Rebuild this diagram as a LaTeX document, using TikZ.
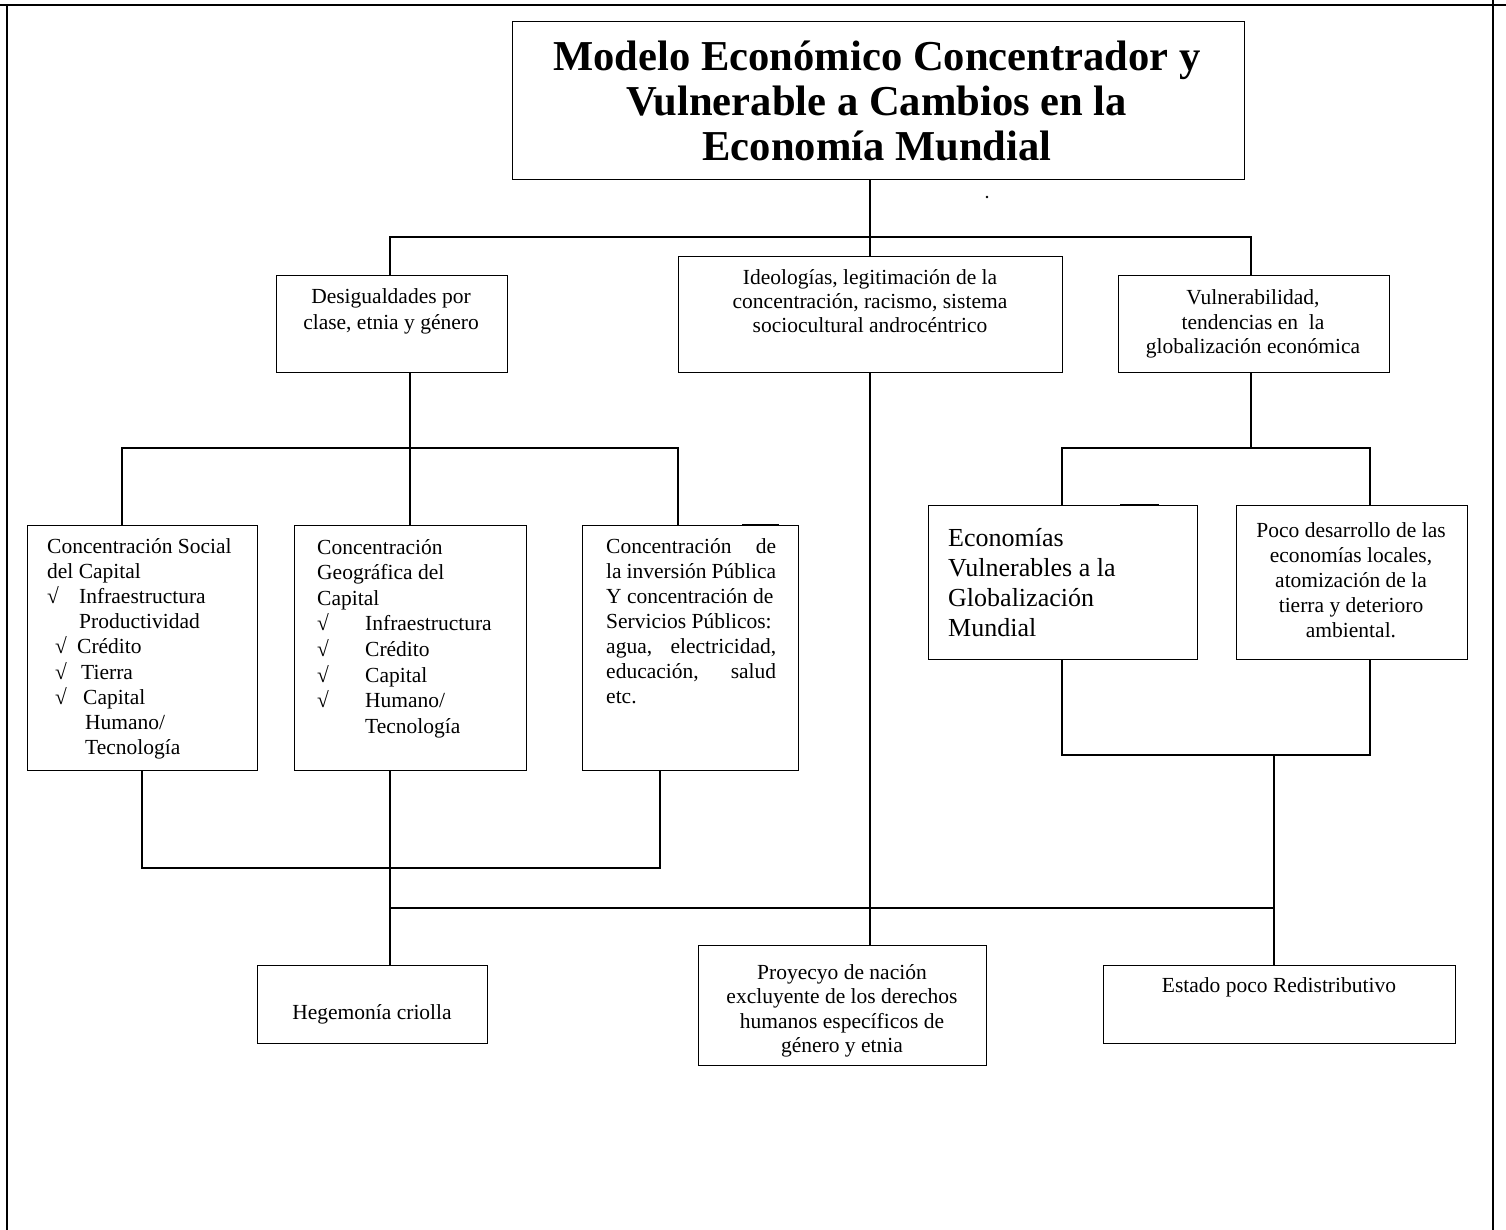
\documentclass[tikz,border=0pt]{standalone}
\usepackage{fontspec}
\setmainfont{Liberation Serif}
\usepackage{array}
\newcommand\txtrows[2]{\begin{tabular}[t]{@{}#1@{}}#2\end{tabular}}
\begin{document}
\begin{tikzpicture}[x=1pt,y=-1pt,
  box/.style={draw, line width=1.3pt, rectangle, inner sep=0pt, anchor=north west},
  conn/.style={line width=1.3pt},
  framerule/.style={line width=2pt},
  strayseg/.style={line width=2.6pt},
  txt/.style={inner sep=0pt, anchor=base, font=\fontsize{21.5}{25}\selectfont},
  txtl/.style={txt, anchor=base west},
]
\useasboundingbox (0,0) rectangle (1506,1230);
% outer frame
\draw[framerule] (0,5) -- (1506,5);
\draw[framerule] (7,5) -- (7,1230);
\draw[framerule] (1493,0) -- (1493,1230);

% boxes
\node[box, minimum width=732pt, minimum height=158pt] (title) at (512,21) {};
\node[box, minimum width=231pt, minimum height=97pt] (desig) at (276,275) {};
\node[box, minimum width=384pt, minimum height=116pt] (ideol) at (678,256) {};
\node[box, minimum width=271pt, minimum height=97pt] (vuln) at (1118,275) {};
\node[box, minimum width=230pt, minimum height=245pt] (social) at (27,525) {};
\node[box, minimum width=232pt, minimum height=245pt] (geo) at (294,525) {};
\node[box, minimum width=216pt, minimum height=245pt] (inv) at (582,525) {};
\node[box, minimum width=269pt, minimum height=154pt] (econ) at (928,505) {};
\node[box, minimum width=231pt, minimum height=154pt] (poco) at (1236,505) {};
\node[box, minimum width=230pt, minimum height=78pt] (heg) at (257,965) {};
\node[box, minimum width=288pt, minimum height=120pt] (proy) at (698,945) {};
\node[box, minimum width=352pt, minimum height=78pt] (estado) at (1103,965) {};

% texts
\node[txt, font=\fontsize{42.6}{45}\selectfont\bfseries] (titletxt) at (877,71)
  {\txtrows{c}{Modelo Económico Concentrador y\\Vulnerable a Cambios en la\\Economía Mundial}};
\node[txt, font=\fontsize{21.5}{26}\selectfont] (desigtxt) at (391,304)
  {\txtrows{c}{Desigualdades por\\clase, etnia y género}};
\node[txt, font=\fontsize{21.5}{24}\selectfont] (ideoltxt) at (870,285)
  {\txtrows{c}{Ideologías, legitimación de la\\concentración, racismo, sistema\\sociocultural androcéntrico}};
\node[txt, font=\fontsize{21.5}{24.5}\selectfont] (vulntxt) at (1253,305)
  {\txtrows{c}{Vulnerabilidad,\\tendencias en\ \ la\\globalización económica}};
\node[txtl, font=\fontsize{21.5}{25.2}\selectfont] (socialtxt) at (47,553)
  {\txtrows{l}{Concentración Social\\del Capital\\
   \makebox[32pt][l]{√}Infraestructura\\
   \hspace*{32pt}Productividad\\
   \hspace*{8pt}\makebox[22pt][l]{√}Crédito\\
   \hspace*{8pt}\makebox[26pt][l]{√}Tierra\\
   \hspace*{8pt}\makebox[28pt][l]{√}Capital\\
   \hspace*{38pt}Humano/\\
   \hspace*{38pt}Tecnología}};
\node[txtl, font=\fontsize{21.5}{25.6}\selectfont] (geotxt) at (317,554)
  {\txtrows{l}{Concentración\\Geográfica del\\Capital\\
   \makebox[48pt][l]{√}Infraestructura\\
   \makebox[48pt][l]{√}Crédito\\
   \makebox[48pt][l]{√}Capital\\
   \makebox[48pt][l]{√}Humano/\\
   \hspace*{48pt}Tecnología}};
\node[txtl, font=\fontsize{21.5}{25}\selectfont] (invtxt) at (606,553)
  {\txtrows{p{170pt}}{Concentración \hfill de\\la inversión Pública\\Y concentración de\\Servicios Públicos:\\agua, \hfill electricidad,\\educación, \hfill salud\\etc.}};
\node[txtl, font=\fontsize{26}{30}\selectfont] (econtxt) at (948,546)
  {\txtrows{l}{Economías\\Vulnerables a la\\Globalización\\Mundial}};
\node[txt, font=\fontsize{21.5}{25}\selectfont] (pocotxt) at (1351,537)
  {\txtrows{c}{Poco desarrollo de las\\economías locales,\\atomización de la\\tierra y deterioro\\ambiental.}};
\node[txt] (hegtxt) at (372,1019) {Hegemonía criolla};
\node[txt, font=\fontsize{21.5}{24.6}\selectfont] (proytxt) at (842,979)
  {\txtrows{c}{Proyecyo de nación\\excluyente de los derechos\\humanos específicos de\\género y etnia}};
\node[txt] (estadotxt) at (1279,992) {Estado poco Redistributivo};

% junction coordinates
\coordinate (xM) at (870,0);
\coordinate (xD) at (390,0);
\coordinate (xV) at (1251,0);
\coordinate (xS1) at (122,0);
\coordinate (xS2) at (142,0);
\coordinate (xG1) at (410,0);
\coordinate (xG2) at (390,0);
\coordinate (xI1) at (678,0);
\coordinate (xI2) at (660,0);
\coordinate (xE) at (1062,0);
\coordinate (xP) at (1370,0);
\coordinate (xT) at (1274,0);
\coordinate (hA) at (870,237);
\coordinate (hB) at (410,448);
\coordinate (hC) at (1251,448);
\coordinate (hD) at (390,868);
\coordinate (hE) at (1062,755);
\coordinate (hE2) at (1370,755);
\coordinate (hT) at (1274,755);
\coordinate (hF) at (870,908);

% connectors
\draw[conn] (title.south -| xM) -- (ideol.north -| xM);
\draw[conn] (desig.north -| xD) |- (hA) -| (vuln.north -| xV);
\draw[conn] (desig.south -| xG1) -- (hB);
\draw[conn] (social.north -| xS1) |- (hB) -| (inv.north -| xI1);
\draw[conn] (hB) -- (geo.north -| xG1);
\draw[conn] (vuln.south -| xV) -- (hC);
\draw[conn] (econ.north -| xE) |- (hC) -| (poco.north -| xP);
\draw[conn] (social.south -| xS2) |- (hD) -| (inv.south -| xI2);
\draw[conn] (geo.south -| xG2) -- (heg.north -| xG2);
\draw[conn] (ideol.south -| xM) -- (proy.north -| xM);
\draw[conn] (econ.south -| xE) -- (hE) -- (hE2) -- (poco.south -| xP);
\draw[conn] (hT) -- (estado.north -| xT);
\draw[conn] (xG2 |- hF) -- (xT |- hF);

% stray marks of the original
\draw[strayseg] (1082,237) -- (1121,237);
\draw[strayseg] (742,525) -- (779,525);
\draw[strayseg] (1120,505) -- (1159,505);
\fill (987,197) circle (1.3pt);
\end{tikzpicture}
\end{document}
